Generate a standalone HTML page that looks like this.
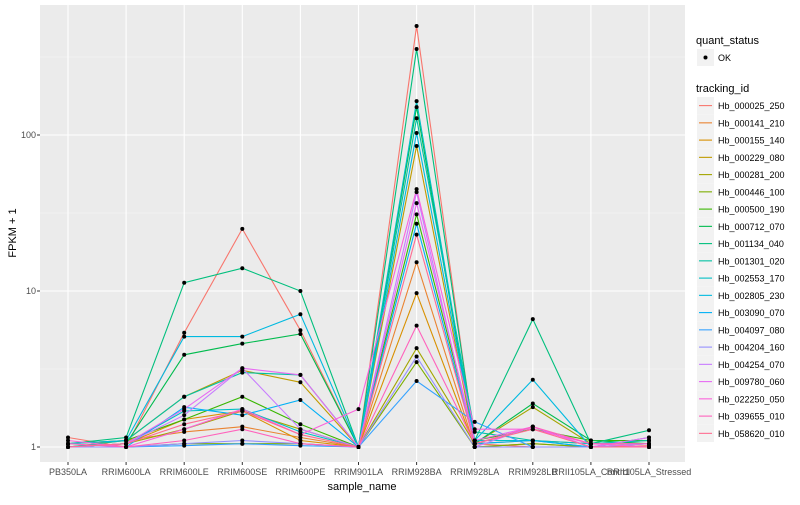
<!DOCTYPE html>
<html><head><meta charset="utf-8"><style>
body{margin:0;background:#fff;}
svg text{font-family:"Liberation Sans",sans-serif;}
</style></head><body>
<svg id="chart" width="800" height="500" xmlns="http://www.w3.org/2000/svg">
<rect x="0" y="0" width="800" height="500" fill="#fff"/>
<rect x="40" y="5" width="645" height="457" fill="#EBEBEB"/>
<g id="grid"></g>
<g id="lines"></g>
<g id="points"></g>
<g id="axes"></g>
<g id="legend"></g>
</svg>
<script>
const categories=["PB350LA","RRIM600LA","RRIM600LE","RRIM600SE","RRIM600PE","RRIM901LA","RRIM928BA","RRIM928LA","RRIM928LB","RRII105LA_Control","RRII105LA_Stressed"];
const seriesNames=["Hb_000025_250","Hb_000141_210","Hb_000155_140","Hb_000229_080","Hb_000281_200","Hb_000446_100","Hb_000500_190","Hb_000712_070","Hb_001134_040","Hb_001301_020","Hb_002553_170","Hb_002805_230","Hb_003090_070","Hb_004097_080","Hb_004204_160","Hb_004254_070","Hb_009780_060","Hb_022250_050","Hb_039655_010","Hb_058620_010"];
const colors=["#F8766D","#EA8331","#D89000","#C09B00","#A3A500","#7CAE00","#39B600","#00BB4E","#00BF7D","#00C1A3","#00BFC4","#00BAE0","#00B0F6","#35A2FF","#9590FF","#C77CFF","#E76BF3","#FA62DB","#FF62BC","#FF6C91"];
const s0=[1.15,1.0,5.4,25,5.6,1.0,500,1.05,1.0,1.0,1.02];
const s1=[1.05,1.1,1.25,1.35,1.15,1.0,15.3,1.0,1.05,1.0,1.05];
const s2=[1.0,1.05,1.5,1.7,1.1,1.0,9.7,1.0,1.0,1.0,1.0];
const s3=[1.0,1.1,2.1,3.1,2.6,1.0,85,1.05,1.1,1.05,1.1];
const s4=[1.0,1.05,1.3,1.7,1.3,1.0,4.3,1.05,1.8,1.05,1.05];
const s5=[1.0,1.0,1.05,1.05,1.05,1.0,3.5,1.0,1.05,1.0,1.0];
const s6=[1.05,1.1,1.5,2.1,1.4,1.0,31,1.1,1.3,1.1,1.1];
const s7=[1.0,1.05,3.9,4.6,5.3,1.0,151,1.05,1.9,1.1,1.05];
const s8=[1.05,1.15,11.3,14,10,1.0,356,1.1,6.6,1.05,1.28];
const s9=[1.0,1.1,2.1,3.0,2.9,1.0,128,1.25,1.1,1.0,1.15];
const s10=[1.0,1.05,1.7,1.75,1.25,1.0,165,1.1,1.1,1.05,1.1];
const s11=[1.05,1.1,5.1,5.1,7.1,1.0,103,1.1,2.7,1.0,1.05];
const s12=[1.0,1.0,1.8,1.6,2.0,1.0,27,1.05,1.1,1.0,1.0];
const s13=[1.0,1.0,1.02,1.05,1.02,1.0,2.65,1.45,1.0,1.0,1.0];
const s14=[1.0,1.0,1.05,1.1,1.05,1.0,3.8,1.0,1.0,1.0,1.0];
const s15=[1.0,1.05,1.6,3.2,1.3,1.0,43,1.0,1.35,1.0,1.05];
const s16=[1.0,1.05,1.75,3.2,2.9,1.0,36.6,1.1,1.35,1.0,1.15];
const s17=[1.1,1.0,1.3,1.75,1.2,1.75,45,1.3,1.3,1.05,1.0];
const s18=[1.05,1.0,1.1,1.3,1.05,1.0,6.0,1.05,1.35,1.05,1.05];
const s19=[1.0,1.05,1.4,1.7,1.2,1.0,23,1.05,1.3,1.0,1.0];
const values=[s0,s1,s2,s3,s4,s5,s6,s7,s8,s9,s10,s11,s12,s13,s14,s15,s16,s17,s18,s19];
const yTicks=[1,10,100];
const yTickLabels=["1","10","100"];

const NS="http://www.w3.org/2000/svg";
function xS(i){return 68+i*(649-68)/(categories.length-1);}
function yS(v){return 447-156*Math.log10(v);}
function mk(tag,attrs,parent){const e=document.createElementNS(NS,tag);for(const k in attrs)e.setAttribute(k,attrs[k]);parent.appendChild(e);return e;}
const grid=document.getElementById('grid'),lines=document.getElementById('lines'),pts=document.getElementById('points'),axes=document.getElementById('axes'),leg=document.getElementById('legend');
// minor grid
for(let k=0;k<yTicks.length;k++){const m=yS(yTicks[k]*Math.sqrt(10));if(m>5){const g=mk('line',{x1:40,x2:685,y1:m,y2:m,stroke:'#F5F5F5','stroke-width':0.6},grid);}}
for(let k=0;k<yTicks.length;k++){const y=yS(yTicks[k]);
 const g=mk('line',{x1:40,x2:685,y1:y,y2:y,stroke:'#fff','stroke-width':1.1},grid);
 const t=mk('text',{x:36,y:y+3,'text-anchor':'end','font-size':9,fill:'#4D4D4D'},axes);t.textContent=yTickLabels[k];
 mk('line',{x1:37,x2:40,y1:y,y2:y,stroke:'#333'},axes);}
categories.forEach((c,i)=>{const x=xS(i);
 const g=mk('line',{x1:x,x2:x,y1:5,y2:462,stroke:'#fff','stroke-width':1.1},grid);
 mk('line',{x1:x,x2:x,y1:462,y2:465,stroke:'#333'},axes);
 const t=mk('text',{x:x,y:475,'text-anchor':'middle','font-size':9,fill:'#4D4D4D'},axes);t.textContent=c;});
values.forEach((vals,s)=>{
 const d=vals.map((v,i)=>(i?'L':'M')+xS(i).toFixed(1)+','+yS(v).toFixed(1)).join(' ');
 const p=mk('path',{d:d,fill:'none',stroke:colors[s],'stroke-width':1.1},lines);
 vals.forEach((v,i)=>{const c=mk('circle',{cx:xS(i),cy:yS(v),r:2,fill:'#000'},pts);});
});
let t=mk('text',{x:362,y:490,'text-anchor':'middle','font-size':11,fill:'#000'},axes);t.textContent='sample_name';
t=mk('text',{x:0,y:0,'text-anchor':'middle','font-size':11,fill:'#000',transform:'translate(16,233) rotate(-90)'},axes);t.textContent='FPKM + 1';
// legend
t=mk('text',{x:696,y:44,'font-size':11,fill:'#000'},leg);t.textContent='quant_status';
mk('rect',{x:697,y:49,width:17,height:17,fill:'#F2F2F2'},leg);
mk('circle',{cx:705.5,cy:57.5,r:2,fill:'#000'},leg);
t=mk('text',{x:718,y:61,'font-size':9,fill:'#000'},leg);t.textContent='OK';
t=mk('text',{x:696,y:92,'font-size':11,fill:'#000'},leg);t.textContent='tracking_id';
seriesNames.forEach((n,s)=>{const y=97+s*17.25;
 mk('rect',{x:697,y:y,width:17,height:17.25,fill:'#F2F2F2'},leg);
 mk('line',{x1:699,x2:712,y1:y+8.6,y2:y+8.6,stroke:colors[s],'stroke-width':1.1},leg);
 const e=mk('text',{x:718,y:y+12,'font-size':9,fill:'#000'},leg);e.textContent=n;});
</script>
</body></html>
